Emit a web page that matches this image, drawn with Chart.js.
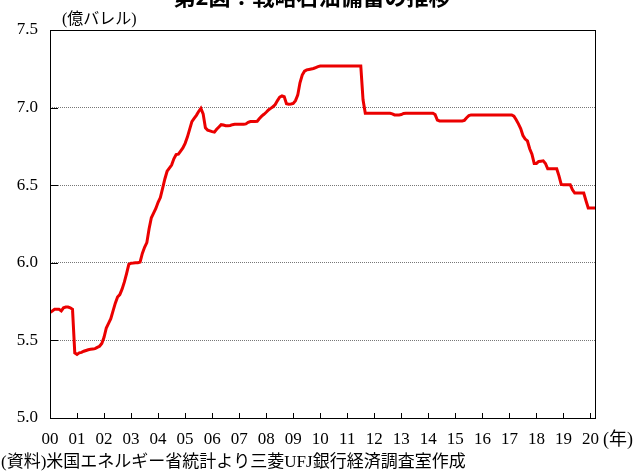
<!DOCTYPE html>
<html>
<head>
<meta charset="utf-8">
<script src="https://cdn.jsdelivr.net/npm/chart.js@4"></script>
<style>
  html, body { margin: 0; padding: 0; background: #fff; }
  #wrap { width: 637px; height: 472px; }
</style>
</head>
<body>
<div id="wrap"><canvas id="chart" width="637" height="472"></canvas></div>
<script>
// 戦略石油備蓄 (億バレル), monthly, Jan 2000 - Mar 2020
var startYear = 2000;
var tickLabels = ['00','01','02','03','04','05','06','07','08','09','10',
                  '11','12','13','14','15','16','17','18','19','20'];
var y2000 = [5.68, 5.69, 5.70, 5.70, 5.70, 5.69, 5.71, 5.715, 5.715, 5.71, 5.70, 5.42];
var y2001 = [5.41, 5.42, 5.423, 5.43, 5.435, 5.44, 5.443, 5.445, 5.447, 5.455, 5.462, 5.48];
var y2002 = [5.52, 5.58, 5.61, 5.64, 5.69, 5.74, 5.78, 5.795, 5.83, 5.875, 5.93, 5.99];
var y2003 = [5.997, 5.998, 6.0, 6.0, 6.005, 6.06, 6.10, 6.13, 6.22, 6.29, 6.32, 6.35];
var y2004 = [6.39, 6.42, 6.48, 6.54, 6.59, 6.61, 6.63, 6.67, 6.697, 6.70, 6.72, 6.74];
var y2005 = [6.77, 6.81, 6.86, 6.91, 6.93, 6.95, 6.975, 6.995, 6.96, 6.87, 6.855, 6.85];
var y2006 = [6.845, 6.842, 6.86, 6.875, 6.89, 6.888, 6.883, 6.883, 6.885, 6.89, 6.893, 6.893];
var y2007 = [6.893, 6.893, 6.893, 6.895, 6.905, 6.91, 6.91, 6.91, 6.912, 6.93, 6.945, 6.957];
var y2008 = [6.97, 6.985, 6.995, 7.005, 7.02, 7.045, 7.068, 7.075, 7.07, 7.025, 7.022, 7.023];
var y2009 = [7.027, 7.045, 7.08, 7.16, 7.21, 7.235, 7.243, 7.246, 7.249, 7.252, 7.258, 7.264];
var y2010 = [7.268, 7.268, 7.268, 7.268, 7.268, 7.268, 7.268, 7.268, 7.268, 7.268, 7.268, 7.268];
var y2011 = [7.268, 7.268, 7.268, 7.268, 7.268, 7.268, 7.268, 7.05, 6.964, 6.964, 6.964, 6.964];
var y2012 = [6.964, 6.964, 6.964, 6.964, 6.964, 6.964, 6.964, 6.964, 6.96, 6.953, 6.953, 6.953];
var y2013 = [6.955, 6.962, 6.964, 6.964, 6.964, 6.964, 6.964, 6.964, 6.964, 6.964, 6.964, 6.964];
var y2014 = [6.964, 6.964, 6.964, 6.955, 6.92, 6.914, 6.914, 6.914, 6.914, 6.914, 6.914, 6.914];
var y2015 = [6.914, 6.914, 6.914, 6.914, 6.918, 6.935, 6.948, 6.953, 6.953, 6.953, 6.953, 6.953];
var y2016 = [6.953, 6.953, 6.953, 6.953, 6.953, 6.953, 6.953, 6.953, 6.953, 6.953, 6.953, 6.953];
var y2017 = [6.953, 6.953, 6.945, 6.922, 6.895, 6.865, 6.82, 6.797, 6.785, 6.735, 6.70, 6.64];
var y2018 = [6.64, 6.653, 6.655, 6.657, 6.64, 6.606, 6.606, 6.606, 6.606, 6.606, 6.56, 6.505];
var y2019 = [6.503, 6.503, 6.503, 6.503, 6.47, 6.449, 6.449, 6.449, 6.449, 6.449, 6.40, 6.353];
var y2020 = [6.353, 6.353, 6.353];

var yearRows = [y2000, y2001, y2002, y2003, y2004, y2005, y2006, y2007, y2008, y2009, y2010,
                y2011, y2012, y2013, y2014, y2015, y2016, y2017, y2018, y2019, y2020];

var points = [];
for (let i = 0; i < yearRows.length; i++) {
    for (let m = 0; m < yearRows[i].length; m++) {
        points.push({x: startYear + i + m / 12, y: yearRows[i][m]});
    }
}
var lastX = points[points.length - 1].x;

var serif = '"Liberation Serif", "Times New Roman", "Noto Sans CJK JP", serif';
var jp = '"Liberation Serif", "Noto Sans CJK JP", sans-serif';

// frame, inward tick marks and the texts around the plot
var decorations = {
    id: 'decorations',
    afterDraw: function(chart) {
        var c = chart.ctx;
        var a = chart.chartArea;
        var xs = chart.scales.x;
        var ys = chart.scales.y;
        c.save();
        c.strokeStyle = '#000';
        c.lineWidth = 1;
        c.strokeRect(Math.round(a.left) + 0.5, Math.round(a.top) + 0.5,
                     Math.round(a.right - a.left), Math.round(a.bottom - a.top));
        c.beginPath();
        xs.ticks.forEach(function(t) {
            var px = Math.round(xs.getPixelForValue(t.value)) + 0.5;
            c.moveTo(px, a.bottom);
            c.lineTo(px, a.bottom - 5);
        });
        ys.ticks.forEach(function(t) {
            var py = Math.round(ys.getPixelForValue(t.value)) + 0.5;
            c.moveTo(a.left, py);
            c.lineTo(a.left + 8, py);
        });
        c.stroke();

        c.fillStyle = '#000';
        c.textBaseline = 'alphabetic';
        c.textAlign = 'center';
        c.font = 'bold 22px "Noto Sans CJK JP", sans-serif';
        c.fillText('第2図：戦略石油備蓄の推移', 312, 5);

        c.textAlign = 'left';
        c.font = '16px ' + jp;
        c.fillText('(億バレル)', 62, 24);

        c.font = '18px ' + jp;
        c.fillText('(年)', 603, 445);

        c.font = '17px ' + jp;
        c.fillText('(資料)米国エネルギー省統計より三菱UFJ銀行経済調査室作成', 1, 467);
        c.restore();
    }
};

var ctx = document.getElementById('chart').getContext('2d');
var chart = new Chart(ctx, {
    type: 'line',
    data: {
        datasets: [{
            label: '戦略石油備蓄',
            data: points,
            borderColor: 'rgb(235,0,0)',
            borderWidth: 3,
            pointRadius: 0,
            tension: 0,
            fill: false
        }]
    },
    options: {
        responsive: false,
        animation: false,
        layout: {padding: {top: 30, right: 42, bottom: 0, left: 0}},
        plugins: {legend: {display: false}, tooltip: {enabled: false}},
        scales: {
            x: {
                type: 'linear',
                min: startYear,
                max: lastX,
                afterFit: function(s) { s.height = 54; },
                grid: {display: false, drawTicks: false},
                border: {display: false},
                ticks: {
                    stepSize: 1,
                    includeBounds: false,
                    autoSkip: false,
                    maxRotation: 0,
                    padding: 11,
                    color: '#000',
                    font: {family: serif, size: 17},
                    callback: function(v) { return tickLabels[Math.round(v - startYear)]; }
                }
            },
            y: {
                min: 5.0,
                max: 7.5,
                afterFit: function(s) { s.width = 50; },
                grid: {
                    drawTicks: false,
                    color: function(c) {
                        var v = c.tick ? c.tick.value : 0;
                        return (v > 5.01 && v < 7.49) ? '#777' : 'rgba(0,0,0,0)';
                    },
                    lineWidth: 1
                },
                border: {display: false, dash: [1, 1]},
                ticks: {
                    stepSize: 0.5,
                    padding: 12,
                    color: '#000',
                    font: {family: serif, size: 17},
                    callback: function(v) { return v.toFixed(1); }
                }
            }
        }
    },
    plugins: [decorations]
});
</script>
</body>
</html>
